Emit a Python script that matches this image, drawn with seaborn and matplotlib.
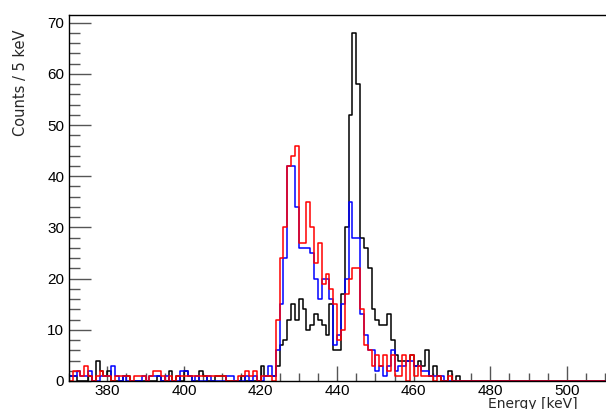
import numpy as np
import pandas as pd
import matplotlib
matplotlib.use("Agg")
import matplotlib.pyplot as plt
from matplotlib.ticker import MultipleLocator
import seaborn as sns

# Energy binning: 1 keV bins from 370 to 510 keV
bin_lo = 370
bin_hi = 510

# Counts per bin, one list per 10 keV block, for each selection
black_counts = [
    1, 1, 0, 0, 0, 1, 0, 4, 2, 1,        # 370
    2, 0, 0, 0, 1, 1, 0, 0, 0, 0,        # 380
    0, 0, 0, 1, 0, 0, 2, 0, 1, 0,        # 390
    2, 1, 0, 0, 2, 1, 0, 0, 1, 1,        # 400
    1, 0, 0, 0, 0, 1, 0, 0, 0, 0,        # 410
    3, 1, 1, 1, 3, 7, 8, 12, 15, 12,     # 420
    16, 14, 10, 11, 13, 12, 11, 9, 15, 6,  # 430
    6, 17, 30, 52, 68, 58, 28, 26, 22, 14,  # 440
    12, 11, 11, 13, 8, 5, 4, 4, 4, 5,    # 450
    3, 4, 3, 6, 1, 3, 1, 0, 0, 2,        # 460
    0, 1, 0, 0, 0, 0, 0, 0, 0, 0,        # 470
    0, 0, 0, 0, 0, 0, 0, 0, 0, 0,        # 480
    0, 0, 0, 0, 0, 0, 0, 0, 0, 0,        # 490
    0, 0, 0, 0, 0, 0, 0, 0, 0, 0,        # 500
]

blue_counts = [
    1, 1, 2, 1, 1, 2, 0, 0, 1, 1,        # 370
    1, 3, 1, 0, 1, 0, 0, 0, 0, 1,        # 380
    0, 1, 1, 1, 0, 1, 0, 0, 0, 2,        # 390
    2, 1, 0, 1, 0, 0, 1, 0, 0, 0,        # 400
    0, 1, 1, 0, 0, 0, 1, 0, 1, 0,        # 410
    0, 1, 3, 1, 6, 15, 24, 42, 42, 34,   # 420
    26, 26, 26, 25, 20, 16, 20, 20, 16, 7,  # 430
    9, 15, 20, 35, 28, 28, 13, 9, 6, 6,  # 440
    2, 3, 1, 3, 6, 2, 3, 3, 4, 4,        # 450
    3, 3, 2, 2, 1, 1, 1, 1, 0, 0,        # 460
    0, 0, 0, 0, 0, 0, 0, 0, 0, 0,        # 470
    0, 0, 0, 0, 0, 0, 0, 0, 0, 0,        # 480
    0, 0, 0, 0, 0, 0, 0, 0, 0, 0,        # 490
    0, 0, 0, 0, 0, 0, 0, 0, 0, 0,        # 500
]

red_counts = [
    0, 2, 2, 1, 3, 1, 0, 1, 2, 1,        # 370
    1, 0, 1, 1, 1, 1, 0, 1, 1, 1,        # 380
    0, 1, 2, 2, 1, 0, 1, 0, 1, 1,        # 390
    1, 1, 1, 1, 1, 1, 1, 1, 1, 1,        # 400
    1, 0, 0, 0, 1, 1, 2, 1, 2, 0,        # 410
    1, 1, 1, 0, 12, 24, 30, 42, 44, 46,  # 420
    27, 27, 35, 30, 23, 27, 19, 21, 18, 15,  # 430
    8, 10, 17, 20, 22, 22, 14, 7, 6, 3,  # 440
    5, 3, 5, 2, 5, 1, 1, 5, 0, 5,        # 450
    1, 3, 1, 1, 1, 0, 1, 0, 0, 1,        # 460
    0, 0, 0, 0, 0, 0, 0, 0, 0, 0,        # 470
    0, 0, 0, 0, 0, 0, 0, 0, 0, 0,        # 480
    0, 0, 0, 0, 0, 0, 0, 0, 0, 0,        # 490
    0, 0, 0, 0, 0, 0, 0, 0, 0, 0,        # 500
]

x_ticks = [380, 400, 420, 440, 460, 480, 500]
y_ticks = [0, 10, 20, 30, 40, 50, 60, 70]

centers = np.arange(bin_lo, bin_hi) + 0.5

sns.set_style("ticks")
plt.rcParams["font.family"] = ["Liberation Sans", "DejaVu Sans"]

W, H = 606, 409
fig = plt.figure(figsize=(W / 100, H / 100), dpi=100)
ax = fig.add_axes([69 / W, (H - 381) / H, 537 / W, 366 / H])

series = [
    ("black", black_counts),
    ("#0000ff", blue_counts),
    ("#ff0000", red_counts),
]
for color, counts in series:
    df = pd.DataFrame({"energy": centers, "counts": counts})
    sns.histplot(data=df, x="energy", weights="counts", binwidth=1,
                 binrange=(bin_lo, bin_hi), element="step", fill=False,
                 color=color, linewidth=1.1, ax=ax)

ax.set_xlim(370, 510.2)
ax.set_ylim(0, 71.5)

ax.set_xticks(x_ticks)
ax.set_yticks(y_ticks)
ax.xaxis.set_minor_locator(MultipleLocator(5))
ax.yaxis.set_minor_locator(MultipleLocator(2))
ax.tick_params(axis="both", which="both", direction="in", colors="#555555",
               labelcolor="black", labelsize=11, width=1)
ax.tick_params(axis="x", which="major", length=11, pad=2)
ax.tick_params(axis="x", which="minor", length=6)
ax.tick_params(axis="y", which="major", length=16, pad=3.5)
ax.tick_params(axis="y", which="minor", length=8)

for side in ("left", "top", "bottom"):
    ax.spines[side].set_color("black")
    ax.spines[side].set_linewidth(1)
ax.spines["right"].set_visible(False)

ax.set_xlabel("Energy [keV]", fontsize=10, family=["DejaVu Sans"],
              loc="right")
ax.xaxis.set_label_coords(0.948, -0.043)
ax.set_ylabel("Counts / 5 keV", fontsize=10.5, family=["DejaVu Sans"],
              loc="top")
ax.yaxis.set_label_coords(-0.077, 0.96)

fig.savefig("out.png", dpi=100)
